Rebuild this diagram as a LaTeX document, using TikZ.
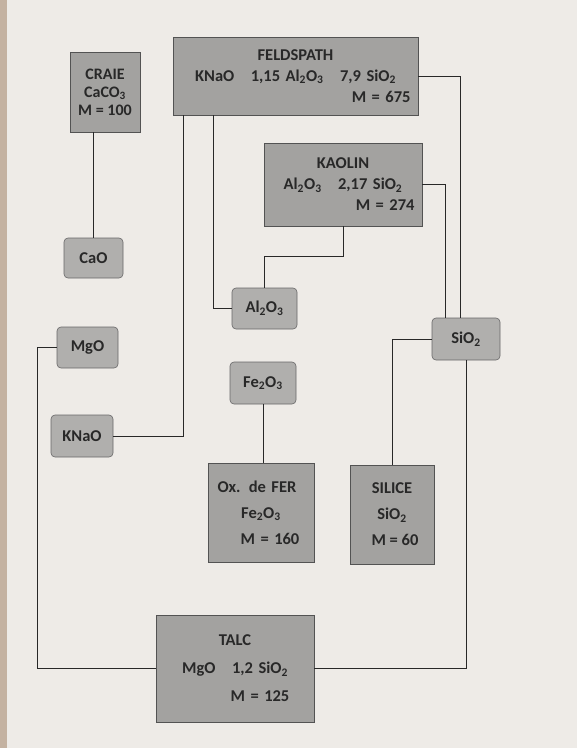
\documentclass[tikz,border=0pt]{standalone}
\usepackage{fontspec}
\setmainfont{Carlito}
\usepackage{xcolor}
\usetikzlibrary{positioning}
\definecolor{paper}{RGB}{238,235,231}
\definecolor{mingray}{RGB}{163,162,160}
\definecolor{oxgray}{RGB}{176,175,173}
\definecolor{inkgray}{RGB}{40,40,40}
\newcommand{\chsub}[1]{\textsubscript{#1}}

\begin{document}
\begin{tikzpicture}[x=1pt, y=-1pt,
      mineral/.style={draw=inkgray!80, fill=mingray, line width=0.6pt,
                      inner sep=2pt, align=center, text=inkgray,
                      font=\fontsize{16.5}{21}\selectfont\bfseries},
      oxide/.style={draw=inkgray!70, fill=oxgray, rounded corners=4pt,
                    line width=0.6pt, align=center, text=inkgray,
                    font=\fontsize{16.5}{21}\selectfont\bfseries},
      link/.style={draw=inkgray, line width=0.8pt}
  ]
    % page
    \fill[paper] (0,0) rectangle (577,748);
    \fill[gray!55!brown!60] (0,0) rectangle (7,748);
    \useasboundingbox (0,0) rectangle (577,748);

    % minerals
    \node[mineral, minimum width=70pt, minimum height=80pt,
          font=\fontsize{16}{18}\selectfont\bfseries] (craie) at (105,92)
        {CRAIE\\ CaCO\chsub{3}\\ M = 100};
    \node[mineral, text width=241pt, minimum height=78pt] (feld) at (295.5,76)
        {FELDSPATH\\ KNaO\quad 1,15 Al\chsub{2}O\chsub{3}\quad 7,9 SiO\chsub{2}\\
         \makebox[\linewidth][r]{M = 675\ }};
    \node[mineral, text width=154pt, minimum height=83pt] (kaolin) at (343,184.5)
        {KAOLIN\\ Al\chsub{2}O\chsub{3}\quad 2,17 SiO\chsub{2}\\
         \makebox[\linewidth][r]{M = 274\ }};
    \node[mineral, text width=102pt, minimum height=99pt,
          font=\fontsize{16.5}{26}\selectfont\bfseries] (oxfer) at (261,512.5)
        {\hspace*{-8pt}Ox. de FER\\ Fe\chsub{2}O\chsub{3}\\ \hspace*{18pt}M = 160};
    \node[mineral, minimum width=84pt, minimum height=99pt,
          font=\fontsize{16.5}{26}\selectfont\bfseries] (silice) at (392,514.5)
        {SILICE\\ SiO\chsub{2}\\ \hspace*{6pt}M = 60};
    \node[mineral, text width=154pt, minimum height=107pt,
          font=\fontsize{16.5}{28}\selectfont\bfseries] (talc) at (235,668.5)
        {TALC\\ MgO\quad 1,2 SiO\chsub{2}\\ \hspace*{50pt}M = 125};

    % oxides
    \node[oxide, minimum width=59pt, minimum height=40pt] (cao) at (93.5,258) {CaO};
    \node[oxide, minimum width=65pt, minimum height=41pt] (al) at (264.5,308.5) {Al\chsub{2}O\chsub{3}};
    \node[oxide, minimum width=68pt, minimum height=42pt] (sio) at (466,339) {SiO\chsub{2}};
    \node[oxide, minimum width=61pt, minimum height=41pt] (mgo) at (87.5,347.5) {MgO};
    \node[oxide, minimum width=66pt, minimum height=42pt] (fe) at (263,383) {Fe\chsub{2}O\chsub{3}};
    \node[oxide, minimum width=62pt, minimum height=42pt] (knao) at (82,436) {KNaO};

    % links
    \draw[link] (cao.north |- craie.south) -- (cao.north);
    \draw[link] (feld.east) -| ([xshift=-6pt]sio.north);
    \draw[link] (kaolin.east) -| ([xshift=-21pt]sio.north);
    \draw[link] (kaolin.south) -- ++(0,30) -| (al.north);
    \draw[link] ([xshift=-82.5pt]feld.south) |- (al.west);
    \draw[link] ([xshift=-112.5pt]feld.south) |- (knao.east);
    \draw[link] (mgo.west) -- ++(-19,0) |- (talc.west);
    \draw[link] (sio.south) |- (talc.east);
    \draw[link] (sio.west) -| (silice.north);
    \draw[link] (fe.south) -- (fe.south |- oxfer.north);
  \end{tikzpicture}
\end{document}
